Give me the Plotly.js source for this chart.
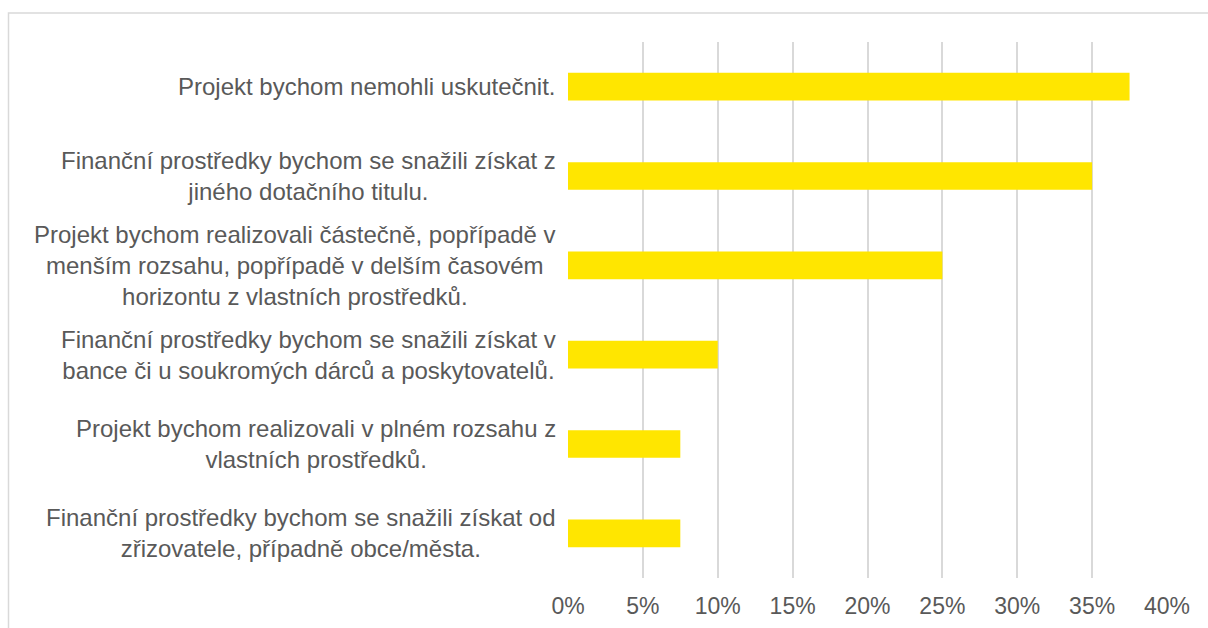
<!DOCTYPE html>
<html><head><meta charset="utf-8">
<script src="https://cdn.plot.ly/plotly-3.0.1.min.js"></script>
<style>html,body{margin:0;padding:0;background:#fff}#chart{width:1208px;height:628px}</style>
</head><body><div id="chart"></div>
<script>
const categories = [
  "Projekt bychom nemohli uskutečnit.",
  "Finanční prostředky bychom se snažili získat z<br>jiného dotačního titulu.",
  "Projekt bychom realizovali částečně, popřípadě v<br>menším rozsahu, popřípadě v delším časovém<br>horizontu z vlastních prostředků.",
  "Finanční prostředky bychom se snažili získat v<br>bance či u soukromých dárců a poskytovatelů.",
  "Projekt bychom realizovali v plném rozsahu z<br>vlastních prostředků.",
  "Finanční prostředky bychom se snažili získat od<br>zřizovatele, případně obce/města."
];
const values = [0.375, 0.35, 0.25, 0.10, 0.075, 0.075];
const tickValues = [0, 0.05, 0.10, 0.15, 0.20, 0.25, 0.30, 0.35, 0.40];
const tickLabels = ["0%", "5%", "10%", "15%", "20%", "25%", "30%", "35%", "40%"];

const ids = categories.map((c, i) => "c" + i);
const annotations = categories.map((c, i) => ({
  xref: "paper", yref: "y", x: 0, y: ids[i], xshift: -10,
  xanchor: "right", yanchor: "middle", align: "center",
  text: c, showarrow: false,
  font: {family: "Liberation Sans, Arial, sans-serif", size: 24, color: "#595959"}
}));

Plotly.newPlot("chart", [{
  type: "bar", orientation: "h", x: values, y: ids,
  marker: {color: "#FFE600"}, hoverinfo: "skip"
}], {
  width: 1208, height: 628,
  margin: {l: 568, r: 41, t: 42, b: 50},
  paper_bgcolor: "#fff", plot_bgcolor: "#fff",
  bargap: 0.69, showlegend: false,
  xaxis: {
    range: [0, 0.4], tickvals: tickValues, ticktext: tickLabels,
    showgrid: true, gridcolor: "#d9d9d9", gridwidth: 2,
    zeroline: false, showline: false, ticks: "",
    ticklabelstandoff: 12,
    tickfont: {family: "Liberation Sans, Arial, sans-serif", size: 23, color: "#595959"}
  },
  yaxis: {
    autorange: "reversed", showticklabels: false, showgrid: false,
    zeroline: false, showline: false, ticks: ""
  },
  annotations: annotations,
  shapes: [{
    type: "rect", xref: "paper", yref: "paper", layer: "above",
    x0: (8.5 - 568) / 599, x1: (1215 - 568) / 599,
    y0: (578 - 640) / 536, y1: (578 - 13) / 536,
    line: {color: "#d9d9d9", width: 1.5}, fillcolor: "rgba(0,0,0,0)"
  }]
}, {displayModeBar: false, staticPlot: true});
</script></body></html>
